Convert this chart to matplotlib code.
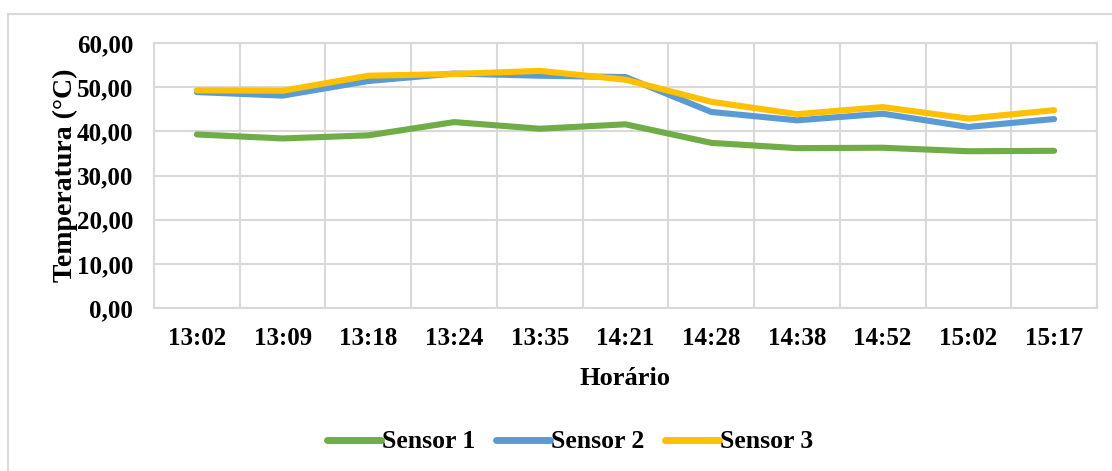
import numpy as np
import matplotlib.pyplot as plt
from matplotlib.patches import Rectangle

# horarios das leituras
horarios = ["13:02", "13:09", "13:18", "13:24", "13:35", "14:21",
            "14:28", "14:38", "14:52", "15:02", "15:17"]

# temperaturas (°C) por sensor
sensor1 = [39.3, 38.4, 39.1, 42.1, 40.6, 41.6, 37.4, 36.2, 36.3, 35.5, 35.6]
sensor2 = [48.9, 48.1, 51.4, 53.1, 52.6, 52.3, 44.4, 42.5, 44.0, 41.0, 42.8]
sensor3 = [49.3, 49.2, 52.6, 53.0, 53.7, 51.7, 46.7, 43.9, 45.5, 42.9, 44.8]

plt.rcParams['font.family'] = ['Liberation Serif', 'DejaVu Serif']
plt.rcParams['font.weight'] = 'bold'

fig = plt.figure(figsize=(11.12, 4.71), dpi=100)
ax = fig.add_axes([0.1385, 0.346, 0.848, 0.5626])

# moldura externa do grafico
fig.patches.append(Rectangle((8 / 1112, -0.1), 1.2, 1 - 14 / 471 + 0.1,
                             transform=fig.transFigure, fill=False,
                             edgecolor='#d9d9d9', linewidth=1.5))

x = np.arange(len(horarios))
ax.plot(x, sensor1, color='#70AD47', lw=4.4, label='Sensor 1', solid_capstyle='round')
ax.plot(x, sensor2, color='#5B9BD5', lw=4.4, label='Sensor 2', solid_capstyle='round')
ax.plot(x, sensor3, color='#FFC000', lw=4.4, label='Sensor 3', solid_capstyle='round')

ax.set_xlim(-0.5, len(horarios) - 0.5)
ax.set_ylim(0, 60)
ax.set_yticks(np.arange(0, 61, 10))
ax.set_yticklabels([f"{v:.2f}".replace('.', ',') for v in np.arange(0, 61, 10)])
ax.set_xticks(x)
ax.set_xticklabels(horarios)
ax.set_xticks(np.arange(-0.5, len(horarios), 1), minor=True)

ax.grid(True, which='major', axis='y', color='#d9d9d9', lw=1.5)
ax.grid(True, which='minor', axis='x', color='#d9d9d9', lw=1.5)
ax.set_axisbelow(True)
for s in ax.spines.values():
    s.set_color('#d9d9d9')
    s.set_linewidth(1.5)

ax.tick_params(which='both', length=0)
ax.tick_params(axis='y', pad=15, labelsize=18)
ax.tick_params(axis='x', pad=14, labelsize=18)

ax.set_ylabel('Temperatura (°C)', fontsize=20, fontweight='bold', labelpad=-1)
ax.set_xlabel('Horário', fontsize=19, fontweight='bold', labelpad=12)

leg = fig.legend(loc='center', bbox_to_anchor=(570 / 1112, 1 - 442 / 471), ncol=3,
                 frameon=False, fontsize=18.5, handlelength=2.1, handletextpad=0.05,
                 columnspacing=0.8)
for h in leg.get_lines():
    h.set_linewidth(5)
    h.set_solid_capstyle('round')

fig.savefig('out.png', dpi=100)
